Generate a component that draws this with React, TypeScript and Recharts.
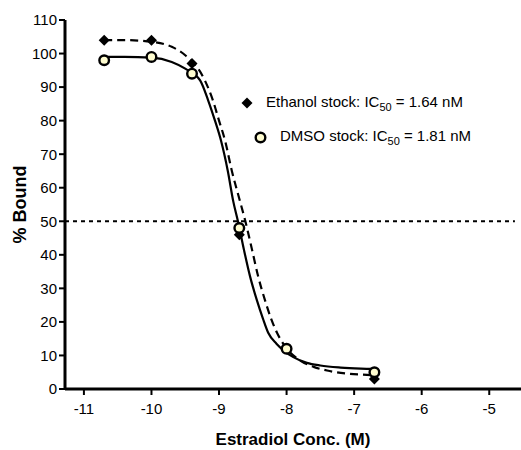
import { ComposedChart, Line, Scatter, XAxis, YAxis, ReferenceLine } from "recharts";

// log10 concentration of estradiol (M)
const ethanolX = [-10.7, -10.0, -9.4, -8.7, -8.0, -6.7];
const ethanolBound = [104, 104, 97, 46, 12, 3];
const dmsoX = [-10.7, -10.0, -9.4, -8.7, -8.0, -6.7];
const dmsoBound = [98, 99, 94, 48, 12, 5];

// fitted curves
const ethanolFitX = [-10.7, -10.4, -10.0, -9.7, -9.5, -9.21, -9.09, -9.0, -8.91, -8.81, -8.69, -8.61, -8.51, -8.42, -8.32, -8.23, -8.14, -8.05, -7.98, -7.8, -7.6, -7.4, -7.1, -6.9, -6.7];
const ethanolFitY = [104, 104, 103.5, 102, 99.5, 92, 86, 80, 74, 65, 56, 50, 41.4, 33.5, 26.5, 21, 16.7, 13.5, 11.6, 8.5, 6.6, 5.5, 4.6, 4.3, 4.1];
const dmsoFitX = [-10.7, -10.4, -10.0, -9.7, -9.5, -9.28, -9.16, -9.06, -8.97, -8.87, -8.79, -8.72, -8.63, -8.54, -8.44, -8.35, -8.27, -8.15, -8.05, -7.9, -7.7, -7.5, -7.2, -6.9, -6.7];
const dmsoFitY = [99, 99, 98.8, 97.5, 95.5, 92, 86, 80, 74, 65, 56, 50, 41.4, 33.5, 26.5, 21, 16.7, 13.5, 11.6, 9.5, 7.8, 7, 6.4, 6.1, 6];

const xTicks = [-11, -10, -9, -8, -7, -6, -5];
const yTicks = [0, 10, 20, 30, 40, 50, 60, 70, 80, 90, 100, 110];
const halfBound = 50;

const zip = (xs: number[], ys: number[]) => xs.map((x, i) => ({ x, y: ys[i] }));

const ethanolPts = zip(ethanolX, ethanolBound);
const dmsoPts = zip(dmsoX, dmsoBound);
const ethanolFit = zip(ethanolFitX, ethanolFitY);
const dmsoFit = zip(dmsoFitX, dmsoFitY);

const FONT = "'Liberation Sans', Arial, sans-serif";
const CIRCLE_FILL = "#fffdd0";

function Diamond(props: any) {
  const { cx, cy } = props;
  const r = 5.5;
  return <polygon points={`${cx},${cy - r} ${cx + r},${cy} ${cx},${cy + r} ${cx - r},${cy}`} fill="#000" />;
}

function Ring(props: any) {
  const { cx, cy } = props;
  return <circle cx={cx} cy={cy} r={4.8} fill={CIRCLE_FILL} stroke="#000" strokeWidth={2.4} />;
}

function LegendBox() {
  const row = { display: "flex", alignItems: "center", height: 34, whiteSpace: "nowrap" as const };
  const sub = { fontSize: 11, verticalAlign: "-4px" };
  return (
    <div style={{ position: "absolute", left: 241, top: 86, fontFamily: FONT, fontSize: 15, color: "#000" }}>
      <div style={row}>
        <svg width={12} height={12} style={{ marginRight: 13 }}>
          <polygon points="6,0.5 11.5,6 6,11.5 0.5,6" fill="#000" />
        </svg>
        <span>
          Ethanol stock: IC<span style={sub}>50</span> = 1.64 nM
        </span>
      </div>
      <div style={{ ...row, marginLeft: 13 }}>
        <svg width={13} height={13} style={{ marginRight: 13 }}>
          <circle cx={6.5} cy={6.5} r={4.8} fill={CIRCLE_FILL} stroke="#000" strokeWidth={2.4} />
        </svg>
        <span>
          DMSO stock: IC<span style={sub}>50</span> = 1.81 nM
        </span>
      </div>
    </div>
  );
}

export default function App() {
  return (
    <div style={{ position: "absolute", left: 0, top: 0, width: 521, height: 450 }}>
      <ComposedChart width={521} height={450} margin={{ top: 20, right: 0, bottom: 0, left: 0 }}>
        <XAxis
          dataKey="x"
          type="number"
          domain={[-11.28, -4.53]}
          ticks={xTicks}
          allowDataOverflow
          height={61}
          tickSize={6}
          tickMargin={8}
          axisLine={{ stroke: "#000", strokeWidth: 3 }}
          tickLine={{ stroke: "#000", strokeWidth: 2 }}
          tick={{ fill: "#000", fontSize: 15, fontFamily: FONT }}
          label={{
            value: "Estradiol Conc. (M)",
            position: "insideBottom",
            offset: 5,
            style: { fill: "#000", fontSize: 17, fontWeight: "bold", fontFamily: FONT },
          }}
        />
        <YAxis
          dataKey="y"
          type="number"
          domain={[0, 110]}
          ticks={yTicks}
          width={65}
          tickSize={6}
          tickMargin={2}
          axisLine={{ stroke: "#000", strokeWidth: 3 }}
          tickLine={{ stroke: "#000", strokeWidth: 2 }}
          tick={{ fill: "#000", fontSize: 15, fontFamily: FONT }}
          label={{
            value: "% Bound",
            angle: -90,
            position: "insideLeft",
            offset: 20,
            style: { fill: "#000", fontSize: 18, fontWeight: "bold", fontFamily: FONT, textAnchor: "middle" },
          }}
        />
        <ReferenceLine
          segment={[
            { x: -11.28, y: halfBound },
            { x: -4.62, y: halfBound },
          ]}
          stroke="#000"
          strokeWidth={2}
          strokeDasharray="4 4"
        />
        <Line
          data={dmsoFit}
          dataKey="y"
          type="monotone"
          stroke="#000"
          strokeWidth={2.2}
          dot={false}
          isAnimationActive={false}
        />
        <Line
          data={ethanolFit}
          dataKey="y"
          type="monotone"
          stroke="#000"
          strokeWidth={2.2}
          strokeDasharray="8 5"
          dot={false}
          isAnimationActive={false}
        />
        <Scatter data={ethanolPts} dataKey="y" shape={<Diamond />} isAnimationActive={false} />
        <Scatter data={dmsoPts} dataKey="y" shape={<Ring />} isAnimationActive={false} />
      </ComposedChart>
      <LegendBox />
    </div>
  );
}
